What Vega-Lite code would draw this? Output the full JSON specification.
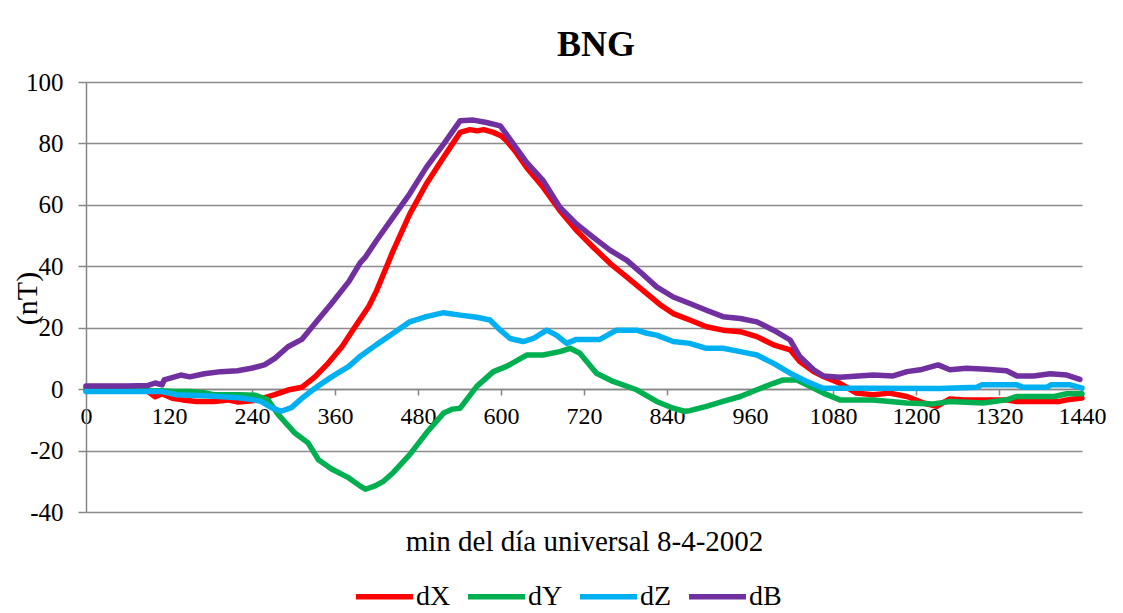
{
  "$schema": "https://vega.github.io/schema/vega-lite/v6.json",
  "width": 996,
  "height": 430,
  "autosize": {"type": "none"},
  "padding": {"left": 86, "top": 82, "right": 41, "bottom": 101},
  "background": "white",
  "title": {"text": "BNG", "font": "Liberation Serif", "fontSize": 36, "fontWeight": "bold", "color": "black", "offset": 6, "dx": 12},
  "data": {"values": [
    {"s":"dX","m":0,"v":0.5},{"s":"dX","m":30,"v":0.5},{"s":"dX","m":60,"v":0.3},{"s":"dX","m":85,"v":0},{"s":"dX","m":100,"v":-2.5},{"s":"dX","m":110,"v":-1.5},{"s":"dX","m":125,"v":-3},{"s":"dX","m":140,"v":-3.5},{"s":"dX","m":160,"v":-4},{"s":"dX","m":185,"v":-4},{"s":"dX","m":205,"v":-3.5},{"s":"dX","m":220,"v":-4.2},{"s":"dX","m":240,"v":-3.8},{"s":"dX","m":255,"v":-3},{"s":"dX","m":273,"v":-1.8},{"s":"dX","m":292,"v":-0.3},{"s":"dX","m":312,"v":0.6},{"s":"dX","m":331,"v":4},{"s":"dX","m":350,"v":8.4},{"s":"dX","m":370,"v":13.8},{"s":"dX","m":389,"v":20.3},{"s":"dX","m":409,"v":27},{"s":"dX","m":420,"v":32},{"s":"dX","m":444,"v":45},{"s":"dX","m":468,"v":57},{"s":"dX","m":492,"v":66.8},{"s":"dX","m":517,"v":75.5},{"s":"dX","m":541,"v":83.6},{"s":"dX","m":555,"v":84.5},{"s":"dX","m":565,"v":84.1},{"s":"dX","m":575,"v":84.5},{"s":"dX","m":589,"v":83.6},{"s":"dX","m":600,"v":82.5},{"s":"dX","m":608,"v":80.9},{"s":"dX","m":622,"v":77},{"s":"dX","m":637,"v":72.2},{"s":"dX","m":661,"v":65.7},{"s":"dX","m":685,"v":58.2},{"s":"dX","m":709,"v":51.7},{"s":"dX","m":733,"v":46.3},{"s":"dX","m":758,"v":40.9},{"s":"dX","m":782,"v":36.5},{"s":"dX","m":806,"v":32},{"s":"dX","m":830,"v":27.5},{"s":"dX","m":849,"v":24.6},{"s":"dX","m":873,"v":22.5},{"s":"dX","m":897,"v":20.3},{"s":"dX","m":921,"v":19.2},{"s":"dX","m":946,"v":18.7},{"s":"dX","m":970,"v":17.1},{"s":"dX","m":994,"v":14.4},{"s":"dX","m":1018,"v":12.8},{"s":"dX","m":1032,"v":9},{"s":"dX","m":1052,"v":5.7},{"s":"dX","m":1066,"v":4.1},{"s":"dX","m":1090,"v":1.9},{"s":"dX","m":1114,"v":-1.3},{"s":"dX","m":1138,"v":-1.8},{"s":"dX","m":1162,"v":-1.3},{"s":"dX","m":1187,"v":-2.4},{"s":"dX","m":1211,"v":-4.5},{"s":"dX","m":1230,"v":-5.6},{"s":"dX","m":1249,"v":-3.2},{"s":"dX","m":1270,"v":-3.5},{"s":"dX","m":1300,"v":-3.5},{"s":"dX","m":1330,"v":-3.5},{"s":"dX","m":1345,"v":-4},{"s":"dX","m":1380,"v":-4},{"s":"dX","m":1408,"v":-4},{"s":"dX","m":1418,"v":-3.5},{"s":"dX","m":1440,"v":-2.9},
    {"s":"dY","m":0,"v":-0.5},{"s":"dY","m":60,"v":-0.5},{"s":"dY","m":110,"v":-0.5},{"s":"dY","m":125,"v":-0.8},{"s":"dY","m":150,"v":-0.8},{"s":"dY","m":170,"v":-1.2},{"s":"dY","m":185,"v":-1.8},{"s":"dY","m":220,"v":-1.8},{"s":"dY","m":245,"v":-2},{"s":"dY","m":263,"v":-3.5},{"s":"dY","m":278,"v":-8.3},{"s":"dY","m":302,"v":-14.3},{"s":"dY","m":321,"v":-17.5},{"s":"dY","m":336,"v":-23},{"s":"dY","m":355,"v":-26},{"s":"dY","m":380,"v":-28.9},{"s":"dY","m":396,"v":-31.5},{"s":"dY","m":404,"v":-32.6},{"s":"dY","m":418,"v":-31.5},{"s":"dY","m":430,"v":-30},{"s":"dY","m":444,"v":-27.2},{"s":"dY","m":468,"v":-21.3},{"s":"dY","m":492,"v":-14.3},{"s":"dY","m":517,"v":-7.8},{"s":"dY","m":530,"v":-6.5},{"s":"dY","m":541,"v":-6.2},{"s":"dY","m":565,"v":0.9},{"s":"dY","m":589,"v":5.7},{"s":"dY","m":608,"v":7.4},{"s":"dY","m":637,"v":11.1},{"s":"dY","m":661,"v":11.1},{"s":"dY","m":685,"v":12.2},{"s":"dY","m":700,"v":13.3},{"s":"dY","m":714,"v":11.7},{"s":"dY","m":738,"v":5.2},{"s":"dY","m":762,"v":2.5},{"s":"dY","m":796,"v":-0.2},{"s":"dY","m":825,"v":-4},{"s":"dY","m":849,"v":-6.2},{"s":"dY","m":865,"v":-7.2},{"s":"dY","m":873,"v":-7},{"s":"dY","m":897,"v":-5.6},{"s":"dY","m":921,"v":-4},{"s":"dY","m":946,"v":-2.4},{"s":"dY","m":970,"v":-0.2},{"s":"dY","m":994,"v":1.9},{"s":"dY","m":1008,"v":3},{"s":"dY","m":1028,"v":3},{"s":"dY","m":1042,"v":1.4},{"s":"dY","m":1066,"v":-1.3},{"s":"dY","m":1090,"v":-3.5},{"s":"dY","m":1138,"v":-3.5},{"s":"dY","m":1187,"v":-4.5},{"s":"dY","m":1225,"v":-4.8},{"s":"dY","m":1249,"v":-4},{"s":"dY","m":1297,"v":-4.5},{"s":"dY","m":1331,"v":-3.5},{"s":"dY","m":1345,"v":-2.4},{"s":"dY","m":1400,"v":-2.4},{"s":"dY","m":1418,"v":-1.5},{"s":"dY","m":1440,"v":-1.5},
    {"s":"dZ","m":0,"v":-0.8},{"s":"dZ","m":60,"v":-0.8},{"s":"dZ","m":110,"v":-0.8},{"s":"dZ","m":130,"v":-1.8},{"s":"dZ","m":180,"v":-2.2},{"s":"dZ","m":220,"v":-2.8},{"s":"dZ","m":243,"v":-3.5},{"s":"dZ","m":253,"v":-4},{"s":"dZ","m":268,"v":-6},{"s":"dZ","m":282,"v":-7.2},{"s":"dZ","m":297,"v":-6},{"s":"dZ","m":312,"v":-3},{"s":"dZ","m":331,"v":0.3},{"s":"dZ","m":355,"v":4},{"s":"dZ","m":380,"v":7.4},{"s":"dZ","m":396,"v":10.6},{"s":"dZ","m":420,"v":14.5},{"s":"dZ","m":444,"v":18.2},{"s":"dZ","m":468,"v":21.9},{"s":"dZ","m":492,"v":23.6},{"s":"dZ","m":517,"v":24.9},{"s":"dZ","m":541,"v":24.1},{"s":"dZ","m":565,"v":23.4},{"s":"dZ","m":584,"v":22.5},{"s":"dZ","m":599,"v":19.2},{"s":"dZ","m":613,"v":16.5},{"s":"dZ","m":632,"v":15.5},{"s":"dZ","m":647,"v":16.5},{"s":"dZ","m":666,"v":19.2},{"s":"dZ","m":680,"v":17.6},{"s":"dZ","m":695,"v":14.9},{"s":"dZ","m":709,"v":16.2},{"s":"dZ","m":743,"v":16.2},{"s":"dZ","m":767,"v":19.2},{"s":"dZ","m":796,"v":19.2},{"s":"dZ","m":811,"v":18.2},{"s":"dZ","m":825,"v":17.6},{"s":"dZ","m":849,"v":15.5},{"s":"dZ","m":873,"v":14.9},{"s":"dZ","m":897,"v":13.3},{"s":"dZ","m":921,"v":13.3},{"s":"dZ","m":946,"v":12.2},{"s":"dZ","m":970,"v":11.1},{"s":"dZ","m":994,"v":8.4},{"s":"dZ","m":1018,"v":5.2},{"s":"dZ","m":1042,"v":2.5},{"s":"dZ","m":1066,"v":0.3},{"s":"dZ","m":1138,"v":0.3},{"s":"dZ","m":1235,"v":0.2},{"s":"dZ","m":1288,"v":0.6},{"s":"dZ","m":1295,"v":1.4},{"s":"dZ","m":1346,"v":1.4},{"s":"dZ","m":1355,"v":0.6},{"s":"dZ","m":1389,"v":0.6},{"s":"dZ","m":1395,"v":1.4},{"s":"dZ","m":1423,"v":1.4},{"s":"dZ","m":1440,"v":0.3},
    {"s":"dB","m":0,"v":1},{"s":"dB","m":60,"v":1},{"s":"dB","m":90,"v":1.2},{"s":"dB","m":100,"v":2},{"s":"dB","m":110,"v":1.4},{"s":"dB","m":113,"v":3},{"s":"dB","m":137,"v":4.6},{"s":"dB","m":150,"v":4},{"s":"dB","m":171,"v":5},{"s":"dB","m":195,"v":5.7},{"s":"dB","m":219,"v":6},{"s":"dB","m":239,"v":6.8},{"s":"dB","m":258,"v":7.9},{"s":"dB","m":273,"v":10},{"s":"dB","m":292,"v":13.8},{"s":"dB","m":312,"v":16.2},{"s":"dB","m":331,"v":21.4},{"s":"dB","m":355,"v":27.9},{"s":"dB","m":380,"v":35},{"s":"dB","m":396,"v":41},{"s":"dB","m":404,"v":43},{"s":"dB","m":420,"v":48.4},{"s":"dB","m":444,"v":56},{"s":"dB","m":468,"v":63.6},{"s":"dB","m":492,"v":72.2},{"s":"dB","m":517,"v":79.8},{"s":"dB","m":541,"v":87.4},{"s":"dB","m":560,"v":87.6},{"s":"dB","m":579,"v":86.8},{"s":"dB","m":599,"v":85.7},{"s":"dB","m":618,"v":79.8},{"s":"dB","m":637,"v":73.8},{"s":"dB","m":661,"v":67.9},{"s":"dB","m":685,"v":59.2},{"s":"dB","m":709,"v":53.8},{"s":"dB","m":733,"v":49.5},{"s":"dB","m":758,"v":45.2},{"s":"dB","m":782,"v":41.9},{"s":"dB","m":801,"v":38.2},{"s":"dB","m":825,"v":33.3},{"s":"dB","m":849,"v":30},{"s":"dB","m":873,"v":27.9},{"s":"dB","m":897,"v":25.7},{"s":"dB","m":921,"v":23.6},{"s":"dB","m":946,"v":23},{"s":"dB","m":970,"v":21.9},{"s":"dB","m":994,"v":19.2},{"s":"dB","m":1018,"v":16},{"s":"dB","m":1032,"v":10.6},{"s":"dB","m":1052,"v":6.3},{"s":"dB","m":1066,"v":4.3},{"s":"dB","m":1090,"v":3.9},{"s":"dB","m":1138,"v":4.6},{"s":"dB","m":1167,"v":4.3},{"s":"dB","m":1187,"v":5.7},{"s":"dB","m":1206,"v":6.3},{"s":"dB","m":1232,"v":7.9},{"s":"dB","m":1249,"v":6.3},{"s":"dB","m":1273,"v":6.8},{"s":"dB","m":1302,"v":6.5},{"s":"dB","m":1331,"v":6},{"s":"dB","m":1346,"v":4.3},{"s":"dB","m":1370,"v":4.3},{"s":"dB","m":1394,"v":5},{"s":"dB","m":1418,"v":4.6},{"s":"dB","m":1437,"v":3.2}
  ]},
  "mark": {"type": "line", "strokeWidth": 5.5, "strokeCap": "round", "strokeJoin": "round"},
  "encoding": {
    "x": {"field": "m", "type": "quantitative",
      "scale": {"domain": [0, 1440], "nice": false, "zero": false},
      "axis": {"title": "min del día universal 8-4-2002", "values": [0,120,240,360,480,600,720,840,960,1080,1200,1320,1440], "format": "d",
        "offset": -123, "grid": false, "domainColor": "#868686", "domainWidth": 1.5, "tickColor": "#868686", "tickSize": 6, "tickWidth": 1.5,
        "labelFont": "Liberation Serif", "labelFontSize": 24, "labelColor": "black", "labelPadding": 9, "labelFlush": false, "labelOverlap": false,
        "titleFont": "Liberation Serif", "titleFontSize": 29, "titleFontWeight": "normal", "titleColor": "black", "titleY": 152, "titleBaseline": "middle"}},
    "y": {"field": "v", "type": "quantitative",
      "scale": {"domain": [-40, 100], "nice": false},
      "axis": {"title": "(nT)", "values": [-40,-20,0,20,40,60,80,100], "grid": true, "gridColor": "#8c8c8c", "gridWidth": 1.5,
        "labelExpr": "replace(datum.label, '\u2212', '-')",
        "domainColor": "#868686", "domainWidth": 1.5, "tickColor": "#868686", "tickSize": 8, "tickWidth": 1.5,
        "labelFont": "Liberation Serif", "labelFontSize": 25, "labelColor": "black", "labelPadding": 15, "labelFlush": false,
        "titleFont": "Liberation Serif", "titleFontSize": 30, "titleFontWeight": "normal", "titleColor": "black",
        "titleX": -59, "titleY": 216, "titleAngle": -90, "titleBaseline": "middle", "titleAlign": "center"}},
    "color": {"field": "s", "type": "nominal",
      "scale": {"domain": ["dX", "dY", "dZ", "dB"], "range": ["#FF0000", "#00B050", "#00B0F0", "#7030A0"]},
      "legend": {"orient": "none", "legendX": 267, "legendY": 483, "direction": "horizontal", "title": null,
        "symbolType": "stroke", "symbolSize": 3249, "symbolStrokeWidth": 5.5,
        "labelFont": "Liberation Serif", "labelFontSize": 28, "labelColor": "black", "labelOffset": 0, "columnPadding": 6}}
  },
  "config": {"view": {"stroke": null}}
}
